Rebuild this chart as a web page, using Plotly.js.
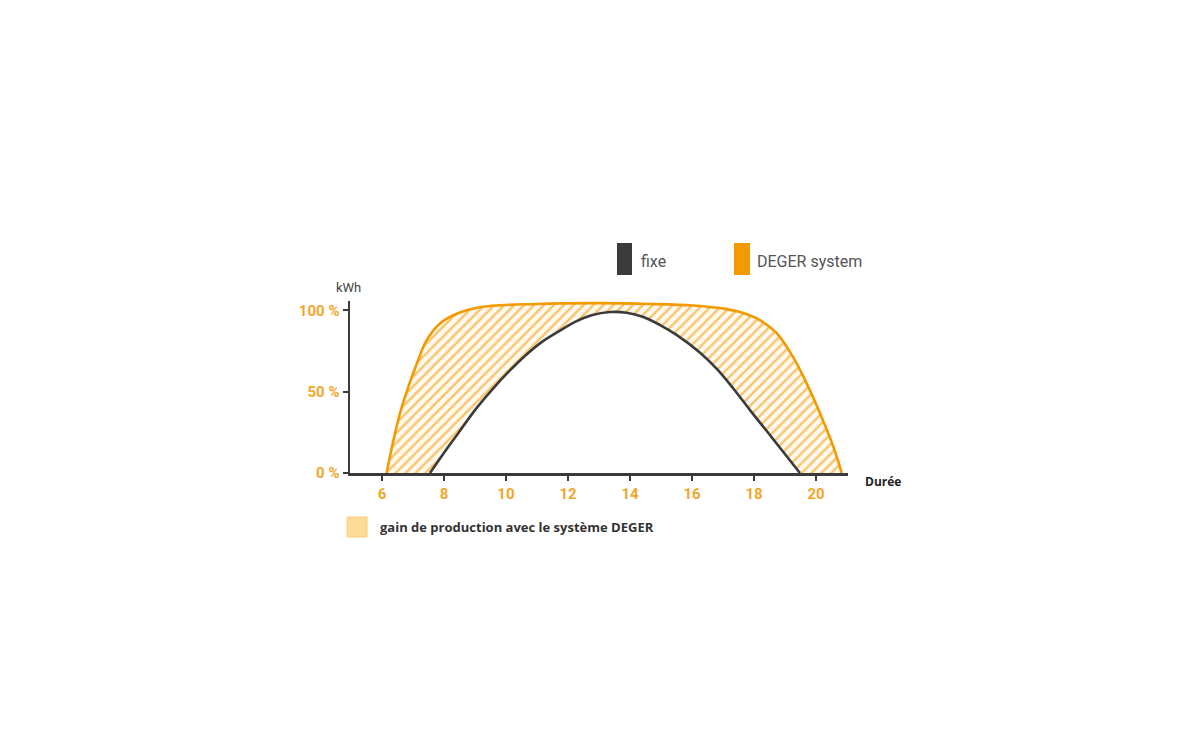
<!DOCTYPE html>
<html>
<head>
<meta charset="utf-8">
<script src="https://cdn.plot.ly/plotly-3.0.1.min.js"></script>
<style>html,body{margin:0;padding:0;background:#fff;}#chart{width:1200px;height:750px;}</style>
</head>
<body>
<div id="chart"></div>
<script>
// Data
const fixeX = [7.55, 7.93, 8.46, 9.0, 9.54, 10.07, 10.61, 11.15, 11.69, 12.23, 12.76, 13.35, 13.89, 14.43, 14.97, 15.5, 16.26, 16.8, 17.33, 17.87, 18.41, 18.95, 19.48];
const fixeY = [0, 10.5, 24.5, 38.7, 51, 62, 72, 80.5, 87, 93, 97, 99, 98.6, 96, 91, 85, 74, 64, 52, 38.7, 25.8, 12.8, 0];
const degerX = [6.15, 6.37, 6.58, 6.85, 7.12, 7.44, 7.87, 8.41, 9.16, 11.0, 13.0, 14.65, 16.04, 17.12, 17.55, 18.19, 18.73, 19.27, 19.7, 20.13, 20.56, 20.83];
const degerY = [0, 20, 36.6, 53, 67, 81.6, 92, 98, 102, 104, 104.5, 104, 103, 100.8, 99, 94, 86, 71, 55, 36.6, 16, 0];
const xTicks = [6, 8, 10, 12, 14, 16, 18, 20];
const yTickVals = [0, 50, 100];
const yTickText = ['0 %', '50 %', '100 %'];
const seriesNames = ['fixe', 'DEGER system'];
const gainLabel = 'gain de production avec le système DEGER';

const ORANGE = '#F39A00';
const DARK = '#3b3b3b';
const TICKORANGE = '#F4A62A';

// plot area in pixels
const L = 350, R = 352, T = 301, B = 277;
const W = 1200 - L - R, H = 750 - T - B;
const px = x => (x - L) / W;
const py = y => (750 - B - y) / H;

const traces = [
  {x: fixeX, y: fixeY, type: 'scatter', mode: 'lines', name: seriesNames[0],
   line: {color: DARK, width: 2.6, shape: 'spline', smoothing: 1}, hoverinfo: 'skip'},
  {x: degerX, y: degerY, type: 'scatter', mode: 'lines', name: seriesNames[1],
   line: {color: ORANGE, width: 2.6, shape: 'spline', smoothing: 1},
   fill: 'tonexty', fillcolor: 'rgba(0,0,0,0)',
   fillpattern: {shape: '/', fgcolor: '#F8C46E', bgcolor: 'rgba(255,246,230,0.6)', size: 7, solidity: 0.35},
   hoverinfo: 'skip'}
];

const shapes = [
  {type: 'rect', xref: 'paper', yref: 'paper', x0: px(617), x1: px(632), y0: py(275), y1: py(243), fillcolor: DARK, line: {width: 0}},
  {type: 'rect', xref: 'paper', yref: 'paper', x0: px(734), x1: px(750), y0: py(275), y1: py(243), fillcolor: ORANGE, line: {width: 0}},
  {type: 'rect', xref: 'paper', yref: 'paper', x0: px(347), x1: px(367), y0: py(537), y1: py(517), fillcolor: '#FDDC98', line: {width: 1, color: '#F8CC78'}}
];

const annotations = [
  {xref: 'paper', yref: 'paper', x: px(639), y: py(261), xanchor: 'left', yanchor: 'middle', showarrow: false,
   text: seriesNames[0], font: {family: 'Roboto', size: 16, color: '#555'}},
  {xref: 'paper', yref: 'paper', x: px(755), y: py(261), xanchor: 'left', yanchor: 'middle', showarrow: false,
   text: seriesNames[1], font: {family: 'Roboto', size: 16, color: '#555'}},
  {xref: 'paper', yref: 'paper', x: px(378), y: py(527), xanchor: 'left', yanchor: 'middle', showarrow: false,
   text: gainLabel, font: {family: 'Open Sans', size: 13, color: '#333', weight: 700}},
  {xref: 'paper', yref: 'paper', x: px(348), y: py(287), xanchor: 'center', yanchor: 'middle', showarrow: false,
   text: 'kWh', font: {family: 'Roboto', size: 13, color: '#444'}},
  {xref: 'paper', yref: 'paper', x: px(863), y: py(481), xanchor: 'left', yanchor: 'middle', showarrow: false,
   text: 'Durée', font: {family: 'Open Sans', size: 12, color: '#222', weight: 700}}
];

const layout = {
  width: 1200, height: 750,
  margin: {l: L, r: R, t: T, b: B, pad: 0},
  paper_bgcolor: '#fff', plot_bgcolor: '#fff',
  showlegend: false,
  xaxis: {range: [4.97, 21.03], tickvals: xTicks, ticks: 'outside', ticklen: 5, tickwidth: 2, tickcolor: DARK,
          showline: true, linecolor: DARK, linewidth: 2.5, showgrid: false, zeroline: false,
          tickfont: {family: 'Roboto', size: 15, color: TICKORANGE, weight: 700}},
  yaxis: {range: [0, 105.8], tickvals: yTickVals, ticktext: yTickText, ticks: 'outside', ticklen: 5, tickwidth: 2, tickcolor: DARK,
          showline: true, linecolor: DARK, linewidth: 2.5, showgrid: false, zeroline: false,
          tickfont: {family: 'Roboto', size: 15, color: TICKORANGE, weight: 700}},
  shapes: shapes,
  annotations: annotations
};

Plotly.newPlot('chart', traces, layout, {staticPlot: true});
</script>
</body>
</html>
